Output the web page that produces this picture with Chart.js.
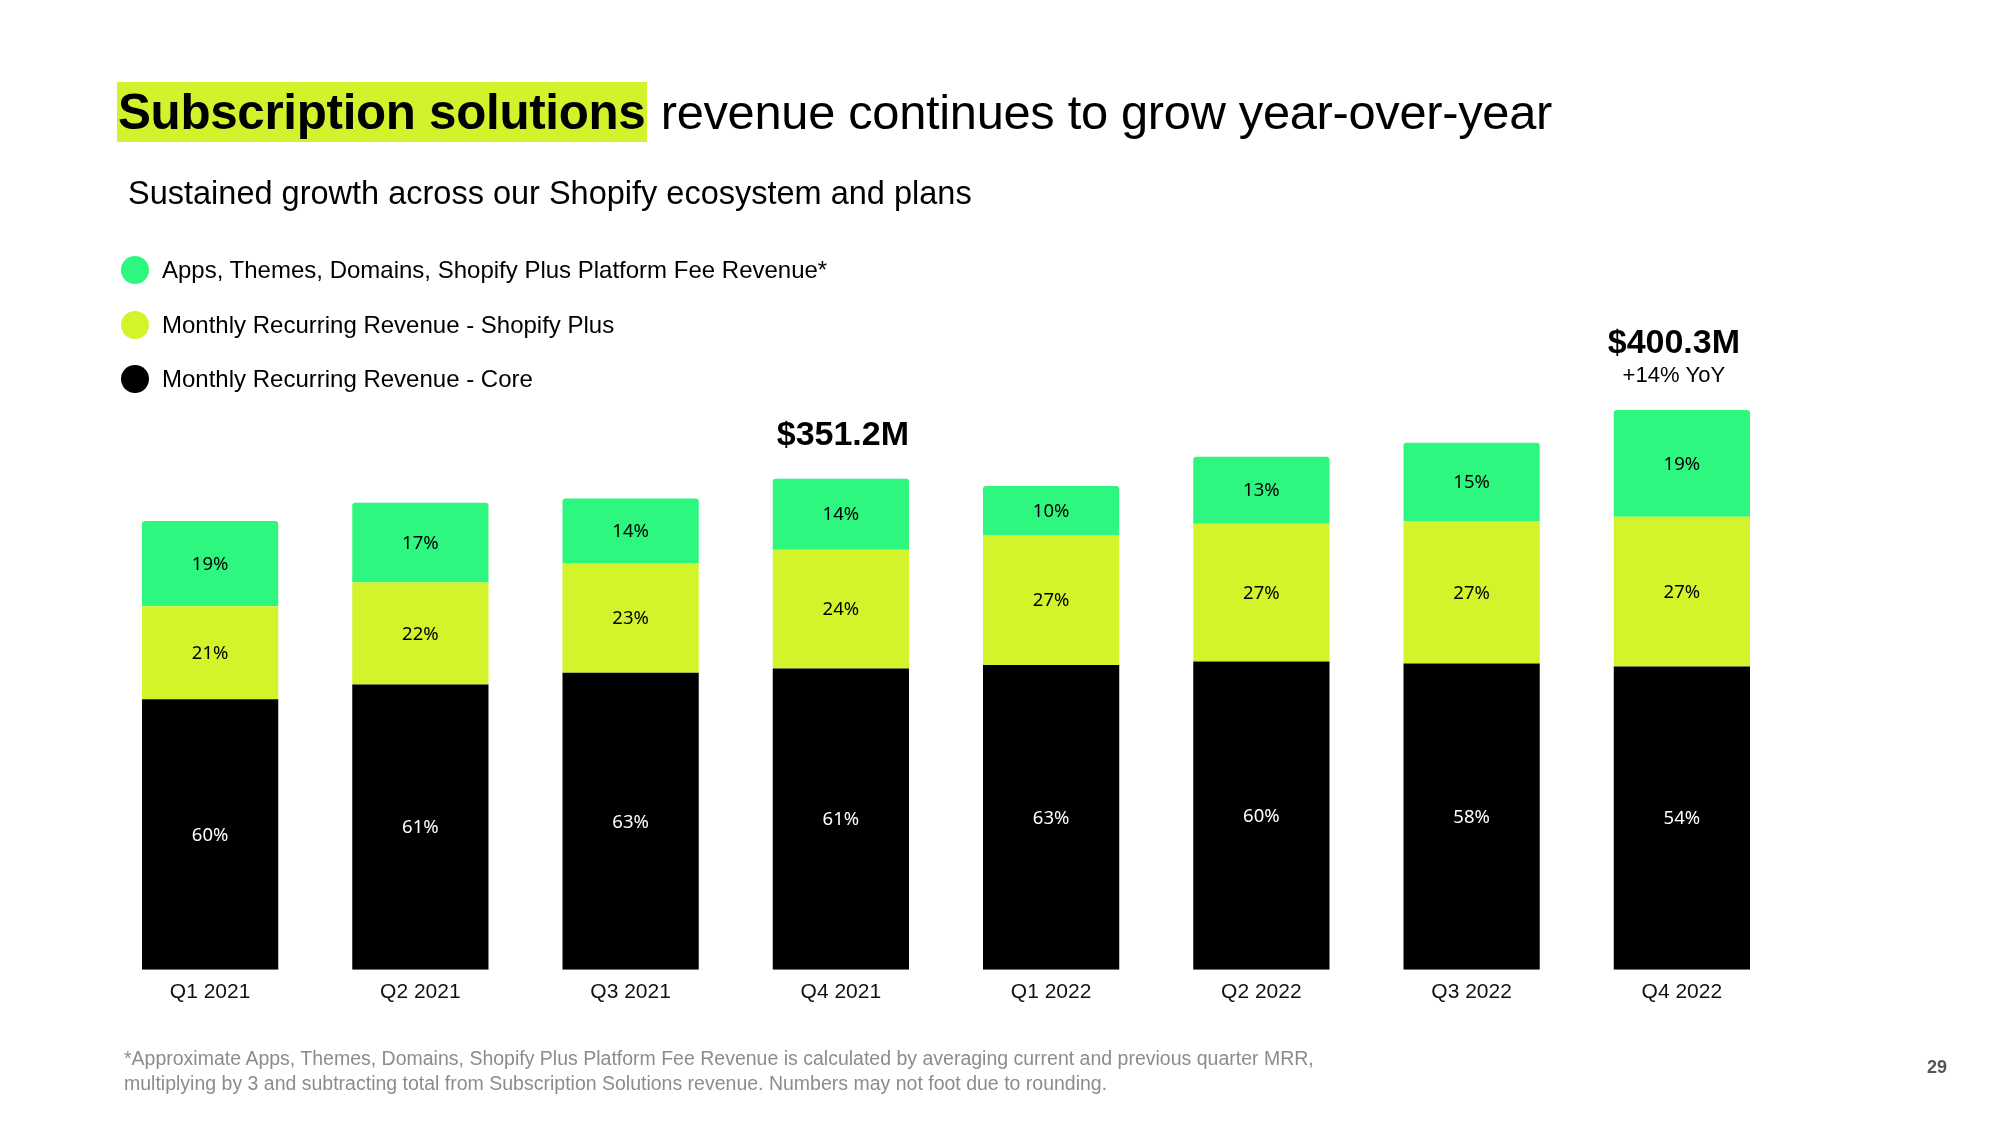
<!DOCTYPE html>
<html>
<head>
<meta charset="utf-8">
<script src="https://cdn.jsdelivr.net/npm/chart.js@4.4.1/dist/chart.umd.min.js"></script>
<style>
  html, body { margin: 0; padding: 0; background: #fff; }
  body { width: 2000px; height: 1125px; position: relative; overflow: hidden; font-family: "Liberation Sans", Arial, sans-serif; color: #000; }
  #chart { position: absolute; left: 0; top: 0; }
  .txt { position: absolute; white-space: nowrap; }
  #title { left: 117px; top: 82px; font-size: 48.8px; line-height: 60px; letter-spacing: -0.3px; }
  #title b { background: #d3f22b; display: inline-block; padding: 0 2px 0 1px; font-size: 49.3px; }
  #subtitle { left: 128px; top: 173px; font-size: 32.5px; line-height: 40px; }
  #legend { left: 121px; top: 243px; }
  .leg { position: relative; height: 54.5px; display: flex; align-items: center; font-size: 24px; }
  .leg i { display: inline-block; width: 28px; height: 28px; border-radius: 50%; margin-right: 13px; }
  #foot { left: 124px; top: 1046px; font-size: 19.5px; line-height: 24.5px; color: #8c8c8c; }
  #page { left: 1927px; top: 1057px; font-size: 18px; font-weight: bold; color: #555; }
</style>
</head>
<body>
<canvas id="chart" width="2000" height="1125"></canvas>
<div class="txt" id="title"><b>Subscription solutions</b> revenue continues to grow year-over-year</div>
<div class="txt" id="subtitle">Sustained growth across our Shopify ecosystem and plans</div>
<div class="txt" id="legend"></div>
<div class="txt" id="foot">*Approximate Apps, Themes, Domains, Shopify Plus Platform Fee Revenue is calculated by averaging current and previous quarter MRR,<br>multiplying by 3 and subtracting total from Subscription Solutions revenue. Numbers may not foot due to rounding.</div>
<div class="txt" id="page">29</div>
<script>
// quarters and segment values in $M
var quarters = ['Q1 2021','Q2 2021','Q3 2021','Q4 2021','Q1 2022','Q2 2022','Q3 2022','Q4 2022'];
var mrrCore = [193.5, 204, 212.5, 215.5, 218, 220.5, 219, 217];
var mrrPlus = [66.5, 73, 78.5, 85, 93, 98.5, 102, 107];
var appsFees = [61, 57, 46, 50.7, 35, 48, 56, 76.3];
// bars that get a total above them (compared with same quarter last year)
var calloutIdx = [3, 7];

var green = '#2ef77f', lime = '#d3f42a';

var totals = quarters.map(function(q, i){ return mrrCore[i] + mrrPlus[i] + appsFees[i]; });

var datasets = [
  {label:'Monthly Recurring Revenue - Core', data: mrrCore, backgroundColor:'#000', textColor:'#fff'},
  {label:'Monthly Recurring Revenue - Shopify Plus', data: mrrPlus, backgroundColor: lime, textColor:'#000'},
  {label:'Apps, Themes, Domains, Shopify Plus Platform Fee Revenue*', data: appsFees, backgroundColor: green, textColor:'#000', borderRadius: 3}
];

// legend, top to bottom
var leg = document.getElementById('legend');
datasets.slice().reverse().forEach(function(d){
  var row = document.createElement('div');
  row.className = 'leg';
  row.innerHTML = '<i style="background:' + d.backgroundColor + '"></i>' + d.label;
  leg.appendChild(row);
});

var labelsPlugin = {
  id: 'segLabels',
  afterDatasetsDraw: function(chart){
    var ctx = chart.ctx;
    ctx.save();
    ctx.textAlign = 'center';
    ctx.textBaseline = 'middle';
    ctx.font = '18.5px "Noto Sans"';
    chart.data.datasets.forEach(function(ds, di){
      var meta = chart.getDatasetMeta(di);
      meta.data.forEach(function(bar, i){
        var p = bar.getProps(['x','y','base'], true);
        var pct = Math.round(ds.data[i] / totals[i] * 100);
        ctx.fillStyle = ds.textColor;
        ctx.fillText(pct + '%', p.x, (p.y + p.base) / 2 + 1);
      });
    });
    // totals above selected bars
    var top = chart.getDatasetMeta(chart.data.datasets.length - 1);
    calloutIdx.forEach(function(i, k){
      var p = top.data[i].getProps(['x','y'], true);
      ctx.fillStyle = '#000';
      ctx.font = 'bold 34px "Liberation Sans"';
      if (k === 0) {
        ctx.fillText('$' + totals[i].toFixed(1) + 'M', p.x + 2, p.y - 43);
      } else {
        var prev = totals[i - 4];
        ctx.fillText('$' + totals[i].toFixed(1) + 'M', p.x - 8, p.y - 66);
        ctx.font = '22px "Liberation Sans"';
        ctx.fillText('+' + Math.round((totals[i] / prev - 1) * 100) + '% YoY', p.x - 8, p.y - 34);
      }
    });
    ctx.restore();
  }
};

new Chart(document.getElementById('chart').getContext('2d'), {
  type: 'bar',
  data: { labels: quarters, datasets: datasets },
  options: {
    responsive: false,
    animation: false,
    devicePixelRatio: 1,
    layout: { padding: { left: 105, right: 213, top: 342, bottom: 110 } },
    datasets: { bar: { barPercentage: 0.648, categoryPercentage: 1 } },
    plugins: { legend: { display: false }, tooltip: { enabled: false } },
    scales: {
      x: {
        stacked: true,
        grid: { display: false, drawTicks: false },
        border: { display: false },
        ticks: { color: '#111', padding: 10, font: { family: 'Liberation Sans', size: 21 } }
      },
      y: { stacked: true, display: false, min: 0, max: 449 }
    }
  },
  plugins: [labelsPlugin]
});
</script>
</body>
</html>
